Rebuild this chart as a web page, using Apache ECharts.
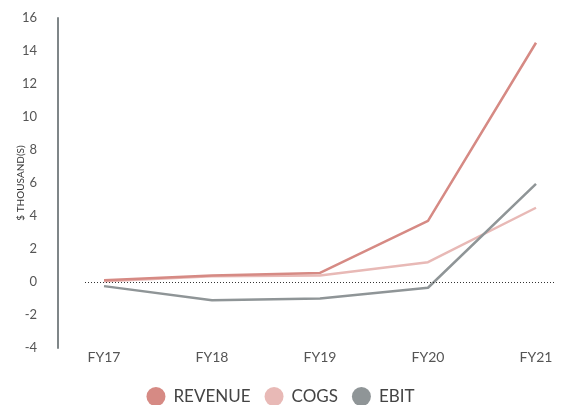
<!DOCTYPE html>
<html>
<head>
<meta charset="utf-8">
<script src="https://cdn.jsdelivr.net/npm/echarts@6/dist/echarts.min.js"></script>
<style>
html,body{margin:0;padding:0;background:#fff;}
#chart{width:561px;height:405px;}
</style>
</head>
<body>
<div id="chart"></div>
<script>
var categories = ['FY17', 'FY18', 'FY19', 'FY20', 'FY21'];
var revenue = [0.1, 0.4, 0.55, 3.7, 14.5];
var cogs = [0.05, 0.35, 0.4, 1.2, 4.5];
var ebit = [-0.25, -1.1, -1.0, -0.35, 5.95];
var yTicks = [-4, -2, 0, 2, 4, 6, 8, 10, 12, 14, 16];

function pts(arr) { return arr.map(function (v, i) { return [i, v]; }); }

var font = 'Lato, "Open Sans", sans-serif';
var chart = echarts.init(document.getElementById('chart'), null, { renderer: 'canvas' });
chart.setOption({
  animation: false,
  backgroundColor: '#fff',
  textStyle: { fontFamily: font },
  grid: { left: 85, right: 6, top: 18, height: 330, containLabel: false, outerBoundsMode: 'none' },
  xAxis: {
    type: 'value',
    min: -0.176,
    max: 4.176,
    splitLine: { show: false },
    axisLine: { show: false },
    axisTick: { show: false },
    axisLabel: {
      margin: 2,
      color: '#555',
      fontSize: 14,
      fontFamily: font,
      formatter: function (v) {
        var r = Math.round(v);
        return Math.abs(v - r) < 1e-6 && categories[r] ? categories[r] : '';
      }
    }
  },
  yAxis: {
    type: 'value',
    min: yTicks[0],
    max: yTicks[yTicks.length - 1],
    interval: 2,
    offset: 27,
    name: '$ THOUSAND(S)',
    nameLocation: 'middle',
    nameRotate: 90,
    nameGap: 32,
    nameMoveOverlap: false,
    nameTextStyle: { color: '#333', fontSize: 10, fontFamily: font },
    splitLine: { show: false },
    axisTick: { show: false },
    axisLine: { show: true, onZero: false, lineStyle: { color: '#7f8688', width: 2 } },
    axisLabel: { margin: 21, color: '#555', fontSize: 13, fontFamily: font }
  },
  legend: {
    data: ['REVENUE', 'COGS', 'EBIT'],
    left: 'center',
    top: 382,
    icon: 'circle',
    itemWidth: 19,
    itemHeight: 19,
    itemGap: 14,
    textStyle: { color: '#444', fontSize: 17, fontFamily: font, padding: [0, 0, 0, 3] }
  },
  series: [
    {
      name: 'COGS', type: 'line', data: pts(cogs), showSymbol: false, z: 2,
      color: '#e8b9b6',
      lineStyle: { color: '#e8b9b6', width: 2.5 },
      markLine: {
        silent: true, symbol: 'none', label: { show: false },
        lineStyle: { color: '#333', type: [1, 2], width: 1 },
        data: [{ yAxis: 0 }]
      }
    },
    {
      name: 'REVENUE', type: 'line', data: pts(revenue), showSymbol: false, z: 3,
      color: '#d68a84',
      lineStyle: { color: '#d68a84', width: 2.5 }
    },
    {
      name: 'EBIT', type: 'line', data: pts(ebit), showSymbol: false, z: 4,
      color: '#8f9597',
      lineStyle: { color: '#8f9597', width: 2.5 }
    }
  ]
});
</script>
</body>
</html>
